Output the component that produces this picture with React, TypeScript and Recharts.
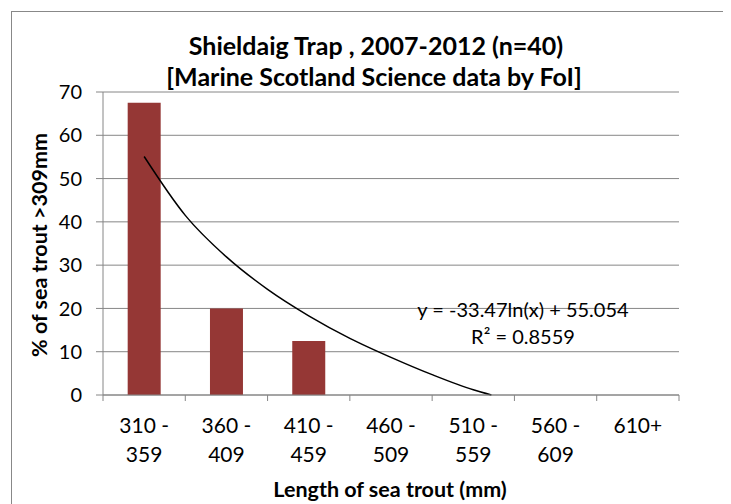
import { ComposedChart, Bar, Line, XAxis, YAxis, CartesianGrid } from "recharts";

// length classes (two-line labels as in the original)
const categories = ["310 -\n359", "360 -\n409", "410 -\n459", "460 -\n509", "510 -\n559", "560 -\n609", "610+"];
const percentages = [67.5, 20, 12.5, 0, 0, 0, 0];
const yTicks = [0, 10, 20, 30, 40, 50, 60, 70];

// log trendline (x = category number)
const trendX = [1, 1.5, 2, 2.5, 3, 3.5, 4, 4.5, 5, 5.22];
const trendY = [55.1, 41.5, 31.9, 24.4, 18.3, 13.1, 8.7, 4.7, 1.2, 0];

const title1 = "Shieldaig Trap , 2007-2012 (n=40)";
const title2 = "[Marine Scotland Science data by FoI]";
const yLabel = "% of sea trout >309mm";
const xLabel = "Length of sea trout (mm)";
const equation = "y = -33.47ln(x) + 55.054";
const rSquared = "R² = 0.8559";

const data = categories.map((c, i) => ({ cat: c, pct: percentages[i] }));
const trendData = trendX.map((x, i) => ({ x, y: trendY[i] }));

const FONT = "Lato, 'Open Sans', sans-serif";
const AXIS = "#868686";
const W = 731;
const H = 504;
const PLOT_LEFT = 103;
const PLOT_RIGHT = 679;
const band = (PLOT_RIGHT - PLOT_LEFT) / categories.length;

const CatTick = (props: any) => {
  const { x, y, payload, index } = props;
  const half = payload && payload.offset ? payload.offset : band / 2;
  const lines = String(payload.value).split("\n");
  return (
    <g>
      <line x1={x - half} x2={x - half} y1={y} y2={y + 6} stroke={AXIS} />
      {index === categories.length - 1 && (
        <line x1={x + half} x2={x + half} y1={y} y2={y + 6} stroke={AXIS} />
      )}
      {lines.map((l, i) => (
        <text key={i} x={x} y={y + 38 + i * 29} textAnchor="middle" fontSize={21} fontFamily={FONT} fill="#000">
          {l}
        </text>
      ))}
    </g>
  );
};

export default function App() {
  return (
    <div style={{ position: "relative", width: W, height: H, margin: "-8px 0 0 -8px", background: "#fff" }}>
      <ComposedChart
        width={W}
        height={H}
        data={data}
        barCategoryGap="30%"
        margin={{ top: 92, right: W - PLOT_RIGHT, bottom: 49, left: 0 }}
      >
        <CartesianGrid vertical={false} stroke={AXIS} />
        <XAxis
          xAxisId="cat"
          dataKey="cat"
          height={60}
          stroke={AXIS}
          tickLine={false}
          tickSize={0}
          tickMargin={0}
          interval={0}
          tick={<CatTick />}
        />
        <XAxis xAxisId="num" dataKey="x" type="number" domain={[0.5, 7.5]} hide allowDataOverflow />
        <YAxis
          width={PLOT_LEFT}
          domain={[0, 70]}
          ticks={yTicks}
          interval={0}
          stroke={AXIS}
          tickSize={7}
          tickMargin={14}
          tick={{ fontSize: 20, fontFamily: FONT, fill: "#000" }}
        />
        <Bar xAxisId="cat" dataKey="pct" fill="#953735" isAnimationActive={false} />
        <Line
          xAxisId="num"
          data={trendData}
          dataKey="y"
          type="monotone"
          stroke="#000"
          strokeWidth={1.5}
          dot={false}
          isAnimationActive={false}
        />
      </ComposedChart>
      <svg width={W} height={H} style={{ position: "absolute", left: 0, top: 0, pointerEvents: "none" }}>
        <line x1={11} y1={11.5} x2={W} y2={11.5} stroke="#888" />
        <line x1={11.5} y1={11} x2={11.5} y2={H} stroke="#888" />
        <text x={376} y={55} textAnchor="middle" fontSize={25} fontWeight="bold" fontFamily={FONT} fill="#000">
          {title1}
        </text>
        <text x={374} y={86} textAnchor="middle" fontSize={25} fontWeight="bold" fontFamily={FONT} fill="#000">
          {title2}
        </text>
        <text
          transform="translate(47,245) rotate(-90)"
          textAnchor="middle"
          fontSize={21.5}
          fontWeight="bold"
          fontFamily={FONT}
          fill="#000"
        >
          {yLabel}
        </text>
        <text x={390} y={497} textAnchor="middle" fontSize={21.5} fontWeight="bold" fontFamily={FONT} fill="#000">
          {xLabel}
        </text>
        <text x={523} y={317} textAnchor="middle" fontSize={20} fontFamily={FONT} fill="#000">
          {equation}
        </text>
        <text x={523} y={344} textAnchor="middle" fontSize={20} fontFamily={FONT} fill="#000">
          {rSquared}
        </text>
      </svg>
    </div>
  );
}
